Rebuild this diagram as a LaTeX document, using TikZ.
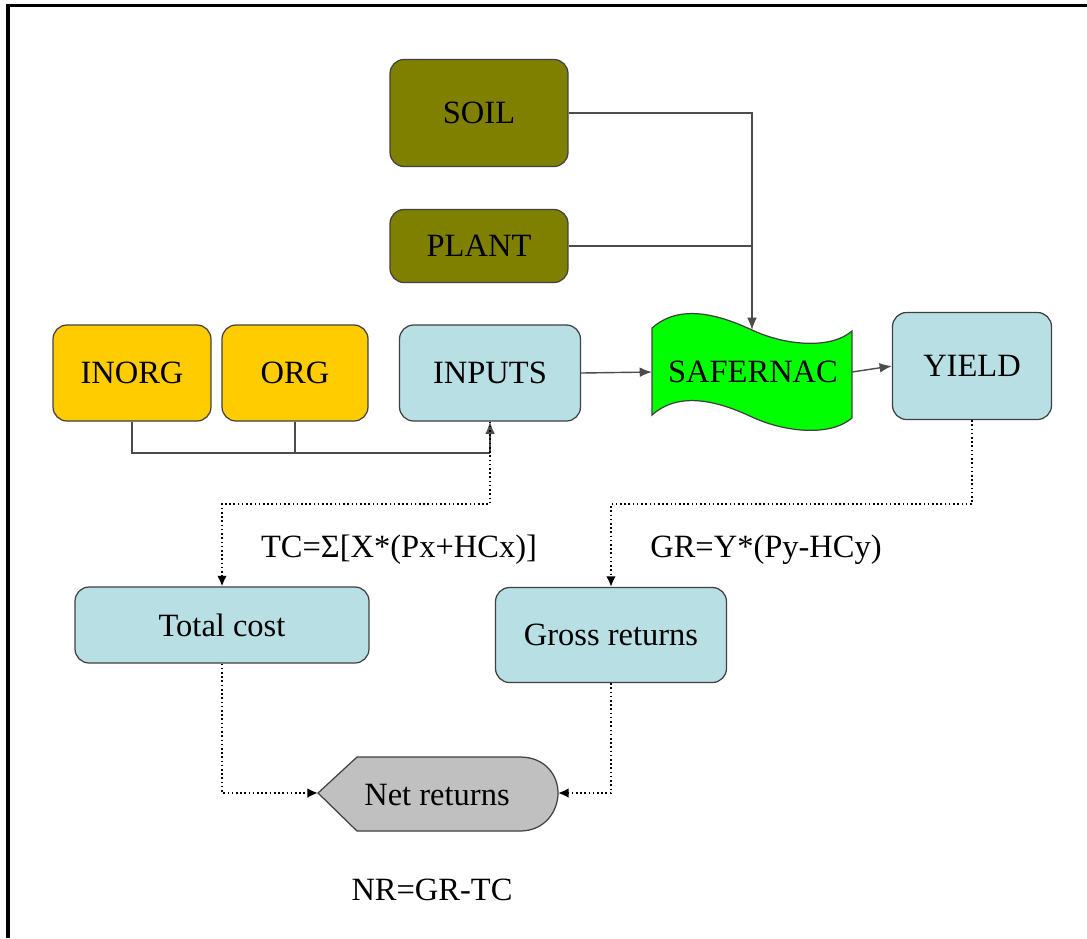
\documentclass[tikz,border=0pt]{standalone}
\usepackage{fontspec}
\setmainfont{Liberation Serif}
\usetikzlibrary{arrows.meta}
\definecolor{olivec}{HTML}{808000}
\definecolor{goldc}{HTML}{FFCC00}
\definecolor{bluec}{HTML}{B8DFE3}
\definecolor{greenc}{HTML}{00FF00}
\definecolor{grayc}{HTML}{C0C0C0}
\begin{document}
\begin{tikzpicture}[x=0.02cm,y=-0.02cm,
  box/.style={draw=black!75, line width=0.7pt, rounded corners=8pt, inner sep=0pt, font=\fontsize{18.5}{20}\selectfont},
  olivebox/.style={box, fill=olivec},
  goldbox/.style={box, fill=goldc},
  bluebox/.style={box, fill=bluec},
  lbl/.style={font=\fontsize{18.5}{20}\selectfont, inner sep=0pt},
  conn/.style={draw=black!70, line width=0.8pt},
  arr/.style={conn, -{Latex[length=7pt,width=5.5pt]}},
  dotc/.style={draw=black, line width=1.3pt, dash pattern=on 0.9pt off 1.5pt},
  dotarr/.style={dotc, -{Latex[length=6pt,width=5.5pt]}}
]
\useasboundingbox (0,0) rectangle (1087,938);
\draw[line width=2pt] (8,938) -- (8,5.5) -- (1087,5.5);

% nodes
\node[olivebox, minimum width=3.56cm, minimum height=2.14cm, text depth=-0.25cm] (soil) at (479,113) {SOIL};
\node[olivebox, minimum width=3.56cm, minimum height=1.46cm] (plant) at (479,246) {PLANT};
\node[goldbox, minimum width=3.16cm, minimum height=1.92cm] (inorg) at (132,373) {INORG};
\node[goldbox, minimum width=2.92cm, minimum height=1.92cm] (org) at (295,373) {ORG};
\node[bluebox, minimum width=3.62cm, minimum height=1.92cm] (inputs) at (490,373) {INPUTS};
\node[bluebox, minimum width=3.18cm, minimum height=2.14cm] (yield) at (972,366) {YIELD};
\node[bluebox, minimum width=5.88cm, minimum height=1.52cm] (tc) at (222,625) {Total cost};
\node[bluebox, minimum width=4.62cm, minimum height=1.90cm] (gr) at (611,635) {Gross returns};

% SAFERNAC wave
\draw[draw=black!75, line width=0.7pt, fill=greenc]
  (652,328) .. controls (680,303) and (720,315) .. (752,330)
  .. controls (784,345) and (830,350) .. (852,331)
  -- (852,418)
  .. controls (830,437) and (784,432) .. (752,417)
  .. controls (720,402) and (680,390) .. (652,415) -- cycle;
\node[lbl] (saf) at (753,372) {SAFERNAC};
\coordinate (saftop) at (752,330);
\coordinate (safL) at (652,372);
\coordinate (safR) at (852,372);

% Net returns shape
\draw[draw=black!75, line width=0.7pt, fill=grayc]
  (318,793) -- (357,757) -- (520,757) .. controls (545,757) and (558,775) .. (558,793)
  .. controls (558,811) and (545,831) .. (520,831) -- (357,831) -- cycle;
\node[lbl] (nr) at (437,795) {Net returns};
\coordinate (nrL) at (318,793);
\coordinate (nrR) at (558,793);

% labels
\node[lbl] (tclbl) at (399,550) {TC=Σ[X*(Px+HCx)]};
\node[lbl] (grlbl) at (766,550) {GR=Y*(Py-HCy)};
\node[lbl] (nrlbl) at (432,890) {NR=GR-TC};

% solid connectors
\draw[arr] (soil.east) -| (saftop);
\draw[conn] (plant.east) -- (plant.east -| saftop);
\coordinate (j) at (490,453);
\draw[conn] (inorg.south) |- (j);
\draw[conn] (org.south) |- (j);
\draw[arr] (j) -- (inputs.south);
\draw[arr] (inputs.east) -- (safL);
\draw[arr] (safR) -- (yield.west);

% dotted connectors
\coordinate (d1) at (490,504);
\coordinate (d2) at (972,504);
\draw[dotarr] (inputs.south) -- (d1) -| (tc.north);
\draw[dotarr] (yield.south) -- (d2) -| (gr.north);
\draw[dotarr] (tc.south) |- (nrL);
\draw[dotarr] (gr.south) |- (nrR);
\end{tikzpicture}
\end{document}
